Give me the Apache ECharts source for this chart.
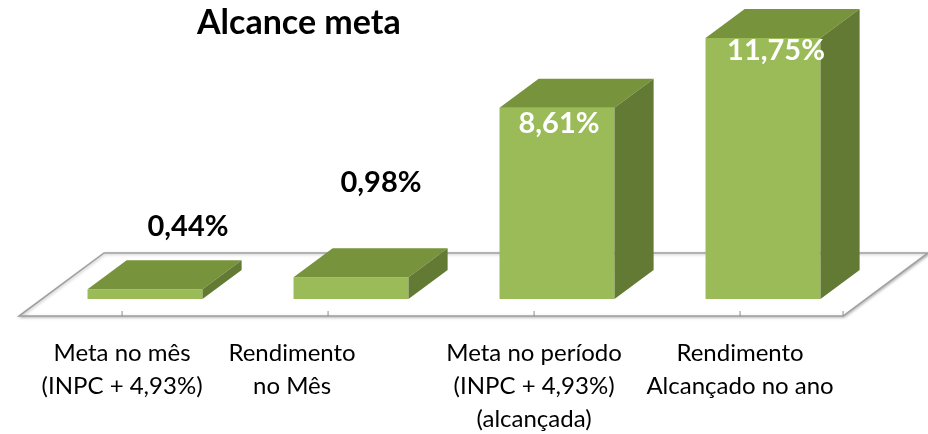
<!DOCTYPE html>
<html><head><meta charset="utf-8">
<script src="https://cdn.jsdelivr.net/npm/echarts@6/dist/echarts.min.js"></script>
<style>html,body{margin:0;padding:0;background:#fff}#c{width:928px;height:434px}</style>
</head><body><div id="c"></div>
<script>
// ---- data ----
const chartTitle = 'Alcance meta';
const categories = ['Meta no mês\n(INPC + 4,93%)', 'Rendimento\nno Mês', 'Meta no período\n(INPC + 4,93%)\n(alcançada)', 'Rendimento\nAlcançado no ano'];
const values = [0.44, 0.98, 8.61, 11.75];
const valueLabels = ['0,44%', '0,98%', '8,61%', '11,75%'];
const yMin = 0, yMax = 12;

// ---- layout / style ----
const DEPTH = [0.19, -0.141];      // oblique depth vector, fraction of band width
const BAR_W = 0.558;                // bar width, fraction of band
const FLOOR_FRONT = -0.586, FLOOR_BACK = 1.586; // floor extent in depth units
const labelOffsets = [[43, -63], [30, -95], [2, 16], [13, 13]];
const labelInside = [false, false, true, true];
const catLabelShift = [0, -36, 0, 0];
const FONT = 'Lato, "Open Sans", sans-serif';
const C_FRONT = '#9BBB59', C_TOP = '#77933C', C_SIDE = '#637A34';

const chart = echarts.init(document.getElementById('c'), null, {renderer: 'canvas'});

function renderFloor(params, api) {
  const band = api.size([1, 0])[0];
  const dx = band * DEPTH[0], dy = band * DEPTH[1];
  const first = api.coord([0, 0]), last = api.coord([categories.length - 1, 0]);
  const L = first[0] - band / 2, R = last[0] + band / 2, y0 = first[1];
  const fl = [L + FLOOR_FRONT * dx, y0 + FLOOR_FRONT * dy];
  const fr = [R + FLOOR_FRONT * dx, y0 + FLOOR_FRONT * dy];
  const br = [R + FLOOR_BACK * dx, y0 + FLOOR_BACK * dy];
  const bl = [L + FLOOR_BACK * dx, y0 + FLOOR_BACK * dy];
  const children = [{
    type: 'polygon', shape: {points: [fl, fr, br, bl]},
    style: {fill: '#ffffff', stroke: '#a0a0a0', lineWidth: 1.6,
      shadowBlur: 3, shadowColor: 'rgba(0,0,0,0.25)', shadowOffsetX: 1, shadowOffsetY: 1}
  }];
  const tickXs = categories.map((c, i) => api.coord([i, 0])[0] + FLOOR_FRONT * dx);
  tickXs.push(fr[0]);
  tickXs.forEach(x => children.push({
    type: 'line', shape: {x1: x, y1: fl[1], x2: x, y2: fl[1] - 5},
    style: {stroke: '#8c8c8c', lineWidth: 1}
  }));
  categories.forEach((c, i) => children.push({
    type: 'text',
    style: {text: c, x: tickXs[i] + catLabelShift[i], y: fl[1] + 21, align: 'center', verticalAlign: 'top',
      font: '24px ' + FONT, fill: '#000', lineHeight: 33}
  }));
  return {type: 'group', children};
}

function renderBar(params, api) {
  const i = api.value(0), v = api.value(1);
  const base = api.coord([i, 0]), top = api.coord([i, v]);
  const band = api.size([1, 0])[0];
  const w = band * BAR_W, dx = band * DEPTH[0], dy = band * DEPTH[1];
  const x0 = base[0] - w / 2, x1 = base[0] + w / 2, yb = base[1], yt = top[1];
  const inside = labelInside[i];
  return {type: 'group', children: [
    {type: 'rect', shape: {x: x0, y: yt, width: w, height: yb - yt}, style: {fill: C_FRONT}},
    {type: 'polygon', shape: {points: [[x0, yt], [x1, yt], [x1 + dx, yt + dy], [x0 + dx, yt + dy]]}, style: {fill: C_TOP}},
    {type: 'polygon', shape: {points: [[x1, yt], [x1 + dx, yt + dy], [x1 + dx, yb + dy], [x1, yb]]}, style: {fill: C_SIDE}},
    {type: 'text', z2: 10, style: {text: valueLabels[i], x: base[0] + labelOffsets[i][0], y: yt + labelOffsets[i][1],
      align: 'center', verticalAlign: 'middle', font: 'bold 29px ' + FONT, fill: inside ? '#ffffff' : '#000000'}}
  ]};
}

chart.setOption({
  animation: false,
  title: {text: chartTitle, left: 197, top: 6, padding: 0,
    textStyle: {fontFamily: FONT, fontWeight: 'bold', fontSize: 34, color: '#000'}},
  grid: {left: 42, right: 62, top: 32.5, bottom: 135},
  xAxis: {type: 'category', data: categories, show: false},
  yAxis: {type: 'value', min: yMin, max: yMax, show: false},
  series: [
    {type: 'custom', renderItem: renderFloor, data: [[0, 0]], z: 1, silent: true},
    {type: 'custom', renderItem: renderBar, data: values.map((v, i) => [i, v]), z: 2, encode: {x: 0, y: 1}}
  ]
});
</script></body></html>
